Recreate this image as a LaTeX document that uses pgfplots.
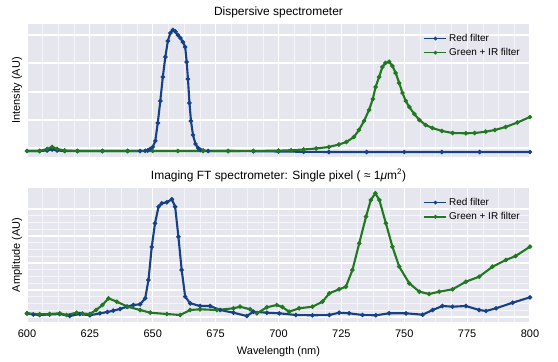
\documentclass[border=0pt]{standalone}
\usepackage{pgfplots}
\pgfplotsset{compat=1.18}
\usepackage{fontspec}
\setmainfont{Liberation Sans}
\definecolor{bgc}{HTML}{E6E6EF}
\definecolor{rb}{RGB}{22,65,135}
\definecolor{gg}{RGB}{32,120,32}
\pgfplotsset{
  myax/.style={
    scale only axis, width=503bp,
    xmin=600, xmax=800,
    xtick={600,625,...,800},
    minor x tick num=3, minor y tick num=3,
    axis background/.style={fill=bgc},
    axis line style={draw=none},
    major tick style={draw=none}, minor tick style={draw=none},
    grid=both,
    major grid style={white, line width=1.2bp},
    minor grid style={white!60!bgc, line width=0.5bp},
    yticklabels={},
    /pgf/number format/assume math mode=true,
    /pgf/number format/1000 sep={},
    tick label style={font=\fontsize{11}{13}\selectfont},
    xticklabel style={yshift=-4bp},
    title style={font=\fontsize{12}{14}\selectfont, at={(0.5,1)}, anchor=base, yshift=3bp},
    ylabel style={font=\fontsize{11}{13}\selectfont, at={(axis description cs:-0.02,0.5)}, anchor=center},
    legend style={draw=none, fill=none, font=\fontsize{10}{12}\selectfont, at={(0.99,0.955)}, anchor=north east, row sep=1.5bp},
    legend cell align=left,
    legend image code/.code={
      \draw[line width=1.5bp, mark size=1bp, mark repeat=2, mark phase=2] plot coordinates {(0bp,0bp)(11bp,0bp)(22bp,0bp)};},
    every axis plot/.append style={line width=2.1bp, mark=*, mark size=1bp},
  }
}
\begin{document}
\begin{tikzpicture}
\useasboundingbox (0,0) rectangle (558bp,362bp);
\begin{axis}[myax, at={(27bp,205bp)}, anchor=south west, height=133bp,
  ymin=0, ymax=133, ytick={9,37,65,94,122}, xticklabels={},
  title={Dispersive spectrometer}, ylabel={Intensity (AU)}]
\addplot[rb] coordinates {
(600,6)(605,6)(608,6.5)(610,7.5)(612,6.5)(615,6)(620,6)(630,6)(640,6)(645,6)(647,6.2)
(648,6.5)(649,8)(650,10)(651,16)(652,34)(653,56)(654,80)(655,100)(656,116)(657,124)(658,127)
(659,125.5)(660,122)(661,119)(662,115)(662.9,110)(663.5,95)(664,78)(664.6,54)(665.2,36)(666,22)
(667,13)(668,9)(669,7)(670,6.5)(672,6)(680,6)(690,5.8)(700,5.5)(710,5.2)(720,5)(735,5)(750,5)(765,5)(780,5)(800,5)};
\addlegendentry{Red filter}
\addplot[gg] coordinates {
(600,6)(605,6)(608,8)(610,10)(612,8)(615,6.5)(620,6)(630,6)(640,6)(650,6)(660,6)(670,6)(680,6)(690,6.1)
(700,6.3)(705,6.8)(710,7.5)(715,8.5)(720,10)(724,12.5)(727,15)(730,20)(732,27)(734,36)(736,47)(737.5,58)
(738.6,70)(740,80)(741.3,90)(742.5,94)(744,95.3)(745.3,91)(746.6,84)(748,74)(749.3,64)(750.6,56)(752,50)
(754,43)(756,37)(758.5,32)(761.2,29)(765,26)(769.2,24)(774.5,23.7)(778,24)(782.4,25.3)(786,27)(790.3,30)
(795,34.5)(800,40)};
\addlegendentry{Green + IR filter}
\end{axis}
\begin{axis}[myax, at={(27bp,40bp)}, anchor=south west, height=134bp,
  ymin=0, ymax=134, ytick={5,32,59,86,113},
  title={Imaging FT spectrometer: Single pixel ( ≈ 1\textit{μ}m\textsuperscript{2})},
  ylabel={Amplitude (AU)}, xlabel={Wavelength (nm)},
  xlabel style={font=\fontsize{11}{13}\selectfont, yshift=-2bp}]
\addplot[rb] coordinates {
(600,8.7)(602.5,7.5)(605,7)(609,7.5)(613,8)(617,6)(621,8)(625,6.7)(629,8.7)(632,10)(634.3,11.3)(637,13)
(639.7,15.3)(642.3,17)(645,17.7)(647,23.7)(648.3,42)(649.6,75)(650.9,98.7)(652.3,115.3)(653.6,118.7)
(655.6,119.7)(657.6,122.7)(658.9,115.3)(660.2,85.3)(661.5,52)(662.9,25.3)(664.9,18.7)(668.8,16)(672.8,16)
(676.8,12)(682.1,9.3)(687.4,6)(690,10.3)(695.4,9.3)(700.3,8.7)(706.9,7)(713.5,6.7)(720.2,7)(724.1,9.3)
(728.1,8.7)(733.4,7)(738.7,6.7)(744,8.7)(750.7,8.7)(757.3,7.3)(761.3,12)(765.2,16)(769.2,15.3)(774.5,16)
(779.8,12)(782.5,11)(786.5,13.7)(793.1,19.3)(800,24.7)};
\addlegendentry{Red filter}
\addplot[gg] coordinates {
(600,8.7)(605,7.7)(609,8)(613,8.7)(615.7,7)(619.7,9.3)(622,8.5)(625,8)(627.5,12)(630,17)(632.4,23.7)
(635.7,20.3)(640,15.3)(645,12)(649,9.3)(655.6,8)(660.9,7)(664.9,12)(668.8,12.7)(675.5,12)(682.1,13.7)
(684.7,15.3)(688.7,12.7)(691.4,8.7)(695.4,14.7)(699.3,17)(701.5,15)(704.2,10.3)(708.2,13.7)(713.5,15.3)
(717.5,20.3)(720.2,28.7)(724.1,32.7)(726.8,35.3)(729.4,52)(732.1,78.7)(734.8,105.3)(736.7,122)(738.5,128.7)
(740.1,122)(742.7,98.7)(745.3,75.3)(748,55.3)(752,38.7)(756,30.3)(759.9,28)(763.9,30.3)(769.2,32.7)
(774.5,40.3)(779.8,45.3)(785.1,55.3)(790.4,62)(794.3,66)(800,75.3)};
\addlegendentry{Green + IR filter}
\end{axis}
\end{tikzpicture}
\end{document}
